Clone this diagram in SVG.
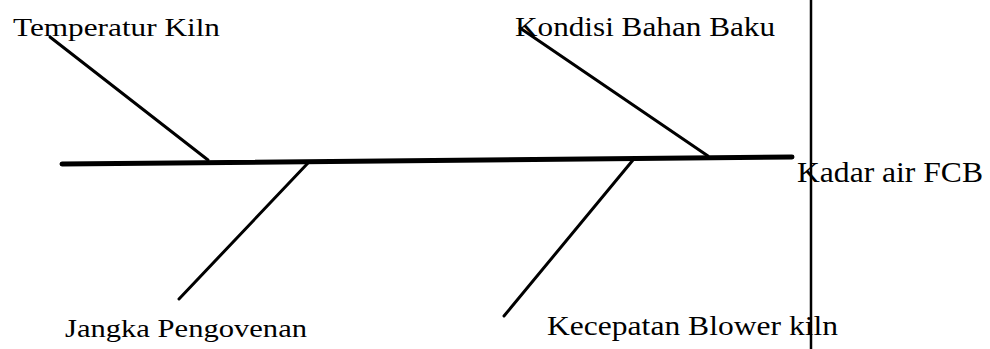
<svg xmlns="http://www.w3.org/2000/svg" width="990" height="349" viewBox="0 0 990 349">
<style>
.t{font-family:"Liberation Serif","Times New Roman",serif;fill:#000;}
.bone{stroke:#000;stroke-linecap:round;fill:none;}
</style>
<rect width="990" height="349" fill="#fff"/>
<g id="connectors">
<line class="bone" x1="62" y1="164" x2="792" y2="157" stroke-width="5"/>
<line class="bone" x1="50" y1="37" x2="208" y2="160" stroke-width="3"/>
<line class="bone" x1="520" y1="28" x2="708" y2="156" stroke-width="3"/>
<line class="bone" x1="308" y1="163" x2="179" y2="299" stroke-width="3"/>
<line class="bone" x1="633" y1="160" x2="504" y2="316" stroke-width="3"/>
<line x1="811" y1="0" x2="811" y2="349" stroke="#000" stroke-width="2.5"/>
</g>
<g id="node-temperatur"><text class="t" x="13" y="36" font-size="26" textLength="207" lengthAdjust="spacingAndGlyphs">Temperatur Kiln</text></g>
<g id="node-kondisi"><text class="t" x="515" y="36" font-size="27" textLength="260" lengthAdjust="spacingAndGlyphs">Kondisi Bahan Baku</text></g>
<g id="node-kadar"><text class="t" x="797" y="182" font-size="30" textLength="186" lengthAdjust="spacingAndGlyphs">Kadar air FCB</text></g>
<g id="node-jangka"><text class="t" x="65" y="337" font-size="26" textLength="242" lengthAdjust="spacingAndGlyphs">Jangka Pengovenan</text></g>
<g id="node-kecepatan"><text class="t" x="547" y="335" font-size="28" textLength="291" lengthAdjust="spacingAndGlyphs">Kecepatan Blower kiln</text></g>
</svg>
